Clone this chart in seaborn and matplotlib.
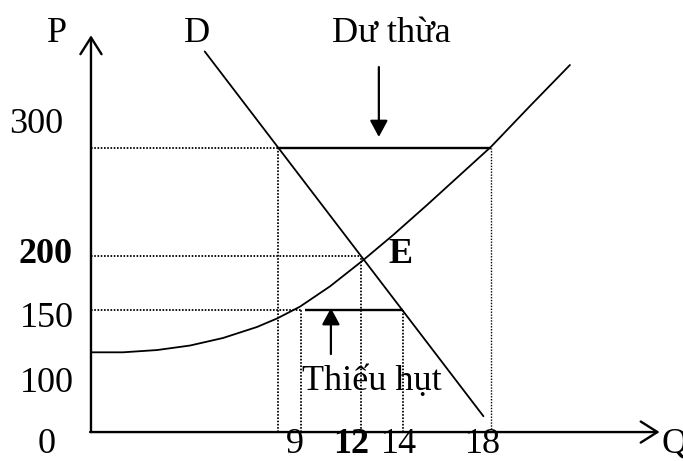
import matplotlib
matplotlib.use("Agg")
import matplotlib.pyplot as plt
import seaborn as sns
import pandas as pd

sns.set_theme(style="white")
plt.rcParams['font.family'] = ['Liberation Serif', 'DejaVu Serif']

# ---- data (diagram units: Q on x, P on y) ----
supply_q = [0, 1.43, 2.96, 4.44, 5.92, 7.44, 8.34, 9.37, 10.72, 12.17,
            13.54, 15.07, 16.55, 17.94, 19.69, 21.48]
supply_p = [110.4, 110.4, 112.5, 116.7, 123.7, 133.9, 141.8, 152.8, 171.7,
            195.4, 219.2, 247.3, 275.2, 301.4, 339.3, 377.4]
demand_q = [5.1, 17.6]
demand_p = [390, 51]

price_surplus = 300
price_eq = 200
price_shortage = 150
q_demand_at_surplus = 8.4
q_supply_at_surplus = 17.94
q_eq = 12.1
q_supply_at_shortage = 9.4
q_demand_at_shortage = 14.0

q_tick_labels = ["9", "12", "14", "18"]
p_tick_labels = ["300", "200", "150", "100", "0"]

supply = pd.DataFrame({"Q": supply_q, "P": supply_p})
demand = pd.DataFrame({"Q": demand_q, "P": demand_p})

# ---- figure ----
fig = plt.figure(figsize=(6.83, 4.61), dpi=100)
ax = fig.add_axes([0, 0, 1, 1])
ax.set_xlim(-4.08, 26.55)
ax.set_ylim(9.4, 437.8)
ax.axis("off")

axis_p = 36.3  # level where the Q axis is drawn
FS = 26
dot = dict(color="black", lw=1.3, linestyle=(0, (0.9, 0.9)))

# axes with open arrowheads
arrow_open = dict(arrowstyle="->,head_length=0.6,head_width=0.38",
                  lw=1.7, color="black", shrinkA=0, shrinkB=0, mutation_scale=20)
ax.annotate("", xy=(0, 405), xytext=(0, axis_p), arrowprops=arrow_open)
ax.annotate("", xy=(25.5, axis_p), xytext=(-0.04, axis_p), arrowprops=arrow_open)

# dotted guide lines
ax.hlines(price_surplus, 0, q_demand_at_surplus, **dot)
ax.hlines(price_eq, 0, q_eq, **dot)
ax.hlines(price_shortage, 0, q_supply_at_shortage, **dot)
ax.vlines(q_demand_at_surplus, axis_p, price_surplus, **dot)
ax.vlines(q_supply_at_shortage, axis_p, price_shortage, **dot)
ax.vlines(q_eq, axis_p, price_eq, **dot)
ax.vlines(q_demand_at_shortage, axis_p, price_shortage, **dot)
ax.vlines(q_supply_at_surplus, axis_p, price_surplus, color="black", lw=1.0,
          linestyle=(0, (1, 1.1)))

# solid surplus / shortage segments
ax.hlines(price_surplus, q_demand_at_surplus, q_supply_at_surplus, color="black", lw=1.7)
ax.hlines(price_shortage, q_supply_at_shortage + 0.2, q_demand_at_shortage,
          color="black", lw=1.7)

# supply and demand
sns.lineplot(data=supply, x="Q", y="P", sort=False, estimator=None,
             color="black", lw=1.3, ax=ax)
sns.lineplot(data=demand, x="Q", y="P", sort=False, estimator=None,
             color="black", lw=1.3, ax=ax)

# filled arrows
arrow_fill = dict(arrowstyle="-|>,head_length=0.5,head_width=0.27",
                  lw=1.6, color="black", shrinkA=0, shrinkB=0, mutation_scale=20)
ax.annotate("", xy=(12.91, 310.5), xytext=(12.91, 375.5), arrowprops=arrow_fill)
ax.annotate("", xy=(10.76, 151.5), xytext=(10.76, 108.8), arrowprops=arrow_fill)

# texts
def t(x, y, s, **kw):
    ax.text(x, y, s, fontsize=FS, ha="center", va="baseline", color="black", **kw)

t(-1.50, 398.8, "P")
t(4.75, 398.8, "D")
t(13.45, 398.8, "Dư thừa")
t(-2.47, 314.2, p_tick_labels[0])
t(-2.02, 193.4, p_tick_labels[1], fontweight="bold")
t(-1.97, 133.9, p_tick_labels[2])
t(-1.97, 73.5, p_tick_labels[3])
t(-1.97, 16.5, p_tick_labels[4])
t(13.86, 193.4, "E", fontweight="bold")
t(9.15, 17.0, q_tick_labels[0])
t(11.66, 17.0, q_tick_labels[1], fontweight="bold")
t(13.81, 17.0, q_tick_labels[2])
t(17.58, 17.0, q_tick_labels[3])
ax.text(25.6, 17.0, "Q", fontsize=FS, ha="left", va="baseline", color="black")
t(12.6, 75.4, "Thiếu hụt")

fig.savefig("out.png", dpi=100)
